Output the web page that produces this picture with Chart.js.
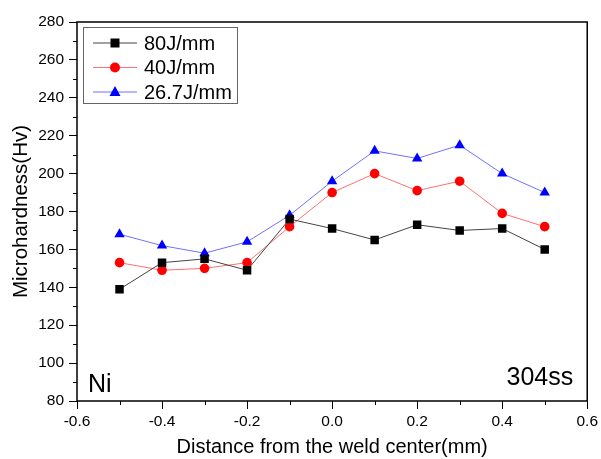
<!DOCTYPE html>
<html>
<head>
<meta charset="utf-8">
<script src="https://cdn.jsdelivr.net/npm/chart.js@4.4.1/dist/chart.umd.min.js"></script>
<style>
  body { margin: 0; background: #fff; }
  #wrap { width: 601px; height: 459px; }
</style>
</head>
<body>
<div id="wrap"><canvas id="hardnessChart"></canvas></div>
<script>
const distances = [-0.5, -0.4, -0.3, -0.2, -0.1, 0.0, 0.1, 0.2, 0.3, 0.4, 0.5];
const hv80 = [139, 153, 155, 149, 176, 171, 165, 173, 170, 171, 160];
const hv40 = [153, 149, 150, 153, 172, 190, 200, 191, 196, 179, 172];
const hv267 = [168, 162, 158, 164, 178, 196, 212, 208, 215, 200, 190];
const seriesNames = ['80J/mm', '40J/mm', '26.7J/mm'];
const xTicks = [-0.6, -0.4, -0.2, 0.0, 0.2, 0.4, 0.6];
const yTicks = [80, 100, 120, 140, 160, 180, 200, 220, 240, 260, 280];

const FONT = 'Liberation Sans, Arial, sans-serif';

function toPoints(vals) {
    return distances.map((d, i) => ({ x: d, y: vals[i] }));
}

// frame, minor ticks, legend box and the two corner labels
const extras = {
    id: 'extras',
    afterDraw(chart) {
        const ctx = chart.ctx;
        const a = chart.chartArea;
        const xs = chart.scales.x;
        const ys = chart.scales.y;
        ctx.save();
        ctx.strokeStyle = '#000';
        ctx.lineWidth = 1.5;
        ctx.strokeRect(a.left, a.top, a.right - a.left, a.bottom - a.top);

        ctx.lineWidth = 1;
        ctx.beginPath();
        for (let i = 0; i < xTicks.length - 1; i++) {
            const px = Math.round(xs.getPixelForValue((xTicks[i] + xTicks[i + 1]) / 2)) + 0.5;
            ctx.moveTo(px, a.bottom);
            ctx.lineTo(px, a.bottom + 4);
        }
        for (let i = 0; i < yTicks.length - 1; i++) {
            const py = Math.round(ys.getPixelForValue((yTicks[i] + yTicks[i + 1]) / 2)) + 0.5;
            ctx.moveTo(a.left, py);
            ctx.lineTo(a.left - 4, py);
        }
        ctx.stroke();

        // legend
        const lx = a.left + 6, ly = a.top + 5, lw = 154, lh = 76;
        ctx.strokeStyle = '#666';
        ctx.lineWidth = 1;
        ctx.strokeRect(lx + 0.5, ly + 0.5, lw, lh);
        ctx.font = '20px ' + FONT;
        ctx.textBaseline = 'middle';
        chart.data.datasets.forEach((ds, i) => {
            const cy = ly + 16 + i * 24.5;
            ctx.strokeStyle = ds.borderColor;
            ctx.beginPath();
            ctx.moveTo(lx + 10, cy);
            ctx.lineTo(lx + 54, cy);
            ctx.stroke();
            ctx.fillStyle = ds.pointBackgroundColor;
            const mx = lx + 32;
            ctx.beginPath();
            if (ds.pointStyle === 'rect') {
                ctx.rect(mx - 4.5, cy - 4.5, 9, 9);
            } else if (ds.pointStyle === 'circle') {
                ctx.arc(mx, cy, 5, 0, Math.PI * 2);
            } else {
                ctx.moveTo(mx, cy - 6);
                ctx.lineTo(mx + 5.5, cy + 4);
                ctx.lineTo(mx - 5.5, cy + 4);
                ctx.closePath();
            }
            ctx.fill();
            ctx.fillStyle = '#000';
            ctx.textAlign = 'left';
            ctx.fillText(ds.label, lx + 61, cy + 1);
        });

        ctx.font = '25px ' + FONT;
        ctx.textBaseline = 'alphabetic';
        ctx.textAlign = 'left';
        ctx.fillText('Ni', a.left + 11, a.bottom - 9);
        ctx.textAlign = 'right';
        ctx.fillText('304ss', a.right - 14, a.bottom - 16);
        ctx.restore();
    }
};

new Chart(document.getElementById('hardnessChart'), {
    type: 'scatter',
    data: {
        datasets: [
            {
                label: seriesNames[0],
                data: toPoints(hv80),
                showLine: true,
                borderColor: '#444',
                borderWidth: 1,
                pointStyle: 'rect',
                pointRadius: 6,
                pointBackgroundColor: '#000',
                pointBorderColor: '#000',
                pointBorderWidth: 0
            },
            {
                label: seriesNames[1],
                data: toPoints(hv40),
                showLine: true,
                borderColor: '#ff6f6f',
                borderWidth: 1,
                pointStyle: 'circle',
                pointRadius: 4.8,
                pointBackgroundColor: '#ff0000',
                pointBorderColor: '#ff0000',
                pointBorderWidth: 0
            },
            {
                label: seriesNames[2],
                data: toPoints(hv267),
                showLine: true,
                borderColor: '#7070ff',
                borderWidth: 1,
                pointStyle: 'triangle',
                pointRadius: 6,
                pointBackgroundColor: '#0000ff',
                pointBorderColor: '#0000ff',
                pointBorderWidth: 0
            }
        ]
    },
    options: {
        responsive: true,
        maintainAspectRatio: false,
        animation: false,
        layout: { padding: { top: 22, right: 13, left: 0, bottom: 0 } },
        plugins: {
            legend: { display: false },
            tooltip: { enabled: false }
        },
        scales: {
            x: {
                type: 'linear',
                min: -0.6,
                max: 0.6,
                afterBuildTicks: (s) => { s.ticks = xTicks.map(v => ({ value: v })); },
                afterFit: (s) => { s.height = 58; },
                grid: { drawOnChartArea: false, drawTicks: true, tickLength: 8, color: '#000' },
                border: { display: false },
                ticks: {
                    color: '#000',
                    font: { family: FONT, size: 15.5 },
                    padding: 3,
                    callback: (v) => v.toFixed(1)
                },
                title: {
                    display: true,
                    text: 'Distance from the weld center(mm)',
                    color: '#000',
                    font: { family: FONT, size: 20 },
                    padding: { top: 0, bottom: 0 }
                }
            },
            y: {
                min: 80,
                max: 280,
                afterBuildTicks: (s) => { s.ticks = yTicks.map(v => ({ value: v })); },
                afterFit: (s) => { s.width = 77; },
                grid: { drawOnChartArea: false, drawTicks: true, tickLength: 8, color: '#000' },
                border: { display: false },
                ticks: {
                    color: '#000',
                    font: { family: FONT, size: 15.5 },
                    padding: 5
                },
                title: {
                    display: true,
                    text: 'Microhardness(Hv)',
                    color: '#000',
                    font: { family: FONT, size: 20.5 },
                    padding: { top: 9, bottom: 0 }
                }
            }
        }
    },
    plugins: [extras]
});
</script>
</body>
</html>
